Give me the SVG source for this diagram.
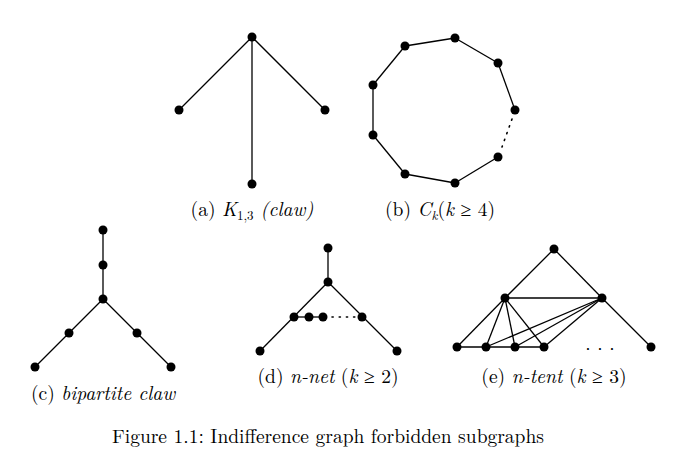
<svg xmlns="http://www.w3.org/2000/svg" width="696" height="466" viewBox="0 0 696 466">
<style>
line{stroke:#000;stroke-width:1.3}
.d{stroke-dasharray:1.2 6;stroke-width:1.6;stroke-linecap:round}
circle{fill:#000}
text{font-family:"Latin Modern Roman","Liberation Serif",serif;font-size:19.5px;text-anchor:middle;fill:#000}
.i{font-style:italic}
</style>
<rect width="696" height="466" fill="#fff"/>
<g id="connectors">
<line x1="252" y1="37" x2="179" y2="110"/><line x1="252" y1="37" x2="325" y2="110"/><line x1="252" y1="37" x2="252" y2="184"/>
<line x1="405" y1="46" x2="455" y2="38"/><line x1="455" y1="38" x2="498" y2="63"/><line x1="498" y1="63" x2="515" y2="110"/>
<line class="d" x1="512" y1="119" x2="502" y2="147"/>
<line x1="498" y1="157" x2="455" y2="183"/><line x1="455" y1="183" x2="405" y2="174"/><line x1="405" y1="174" x2="373" y2="135"/><line x1="373" y1="135" x2="373" y2="85"/><line x1="373" y1="85" x2="405" y2="46"/>
<line x1="103" y1="230" x2="103" y2="299"/><line x1="103" y1="299" x2="35" y2="367"/><line x1="103" y1="299" x2="171" y2="367"/>
<line x1="328" y1="248" x2="328" y2="282"/><line x1="328" y1="282" x2="260" y2="351"/><line x1="328" y1="282" x2="397" y2="351"/>
<line x1="294" y1="317" x2="323" y2="317"/><line class="d" x1="332" y1="317" x2="356" y2="317"/>
<line x1="554" y1="249" x2="505" y2="298"/><line x1="554" y1="249" x2="602" y2="298"/><line x1="505" y1="298" x2="602" y2="298"/>
<line x1="457" y1="347" x2="544" y2="347"/>
<line x1="505" y1="298" x2="457" y2="347"/><line x1="505" y1="298" x2="486" y2="347"/><line x1="505" y1="298" x2="515" y2="347"/><line x1="505" y1="298" x2="544" y2="347"/>
<line x1="602" y1="298" x2="486" y2="347"/><line x1="602" y1="298" x2="515" y2="347"/><line x1="602" y1="298" x2="544" y2="347"/><line x1="602" y1="298" x2="651" y2="347"/>
</g>
<g id="claw"><circle cx="252" cy="37" r="4.5"/><circle cx="179" cy="110" r="4.5"/><circle cx="325" cy="110" r="4.5"/><circle cx="252" cy="184" r="4.5"/>
<text x="252" y="216">(a) <tspan class="i">K</tspan><tspan font-size="13" dy="4">1,3</tspan><tspan dy="-4" class="i"> (claw)</tspan></text></g>
<g id="cycle"><circle cx="405" cy="46" r="4.5"/><circle cx="455" cy="38" r="4.5"/><circle cx="498" cy="63" r="4.5"/><circle cx="515" cy="110" r="4.5"/><circle cx="498" cy="157" r="4.5"/><circle cx="455" cy="183" r="4.5"/><circle cx="405" cy="174" r="4.5"/><circle cx="373" cy="135" r="4.5"/><circle cx="373" cy="85" r="4.5"/>
<text x="440" y="216">(b) <tspan class="i">C</tspan><tspan font-size="13" dy="4" class="i">k</tspan><tspan dy="-4">(</tspan><tspan class="i">k</tspan> ≥ 4)</text></g>
<g id="bipartite-claw"><circle cx="103" cy="230" r="4.5"/><circle cx="103" cy="265" r="4.5"/><circle cx="103" cy="299" r="4.5"/><circle cx="69" cy="333" r="4.5"/><circle cx="35" cy="367" r="4.5"/><circle cx="137" cy="333" r="4.5"/><circle cx="171" cy="367" r="4.5"/>
<text x="103" y="400">(c) <tspan class="i">bipartite claw</tspan></text></g>
<g id="net"><circle cx="328" cy="248" r="4.5"/><circle cx="328" cy="282" r="4.5"/><circle cx="294" cy="317" r="4.5"/><circle cx="309" cy="317" r="4.5"/><circle cx="323" cy="317" r="4.5"/><circle cx="362" cy="317" r="4.5"/><circle cx="260" cy="351" r="4.5"/><circle cx="397" cy="351" r="4.5"/>
<text x="328" y="383">(d) <tspan class="i">n-net</tspan> (<tspan class="i">k</tspan> ≥ 2)</text></g>
<g id="tent"><circle cx="554" cy="249" r="4.5"/><circle cx="505" cy="298" r="4.5"/><circle cx="602" cy="298" r="4.5"/><circle cx="457" cy="347" r="4.5"/><circle cx="486" cy="347" r="4.5"/><circle cx="515" cy="347" r="4.5"/><circle cx="544" cy="347" r="4.5"/><circle cx="651" cy="347" r="4.5"/>
<text x="600" y="350" font-size="14">. . .</text>
<text x="554" y="383">(e) <tspan class="i">n-tent</tspan> (<tspan class="i">k</tspan> ≥ 3)</text></g>
<text x="328" y="443">Figure 1.1: Indifference graph forbidden subgraphs</text>
</svg>
